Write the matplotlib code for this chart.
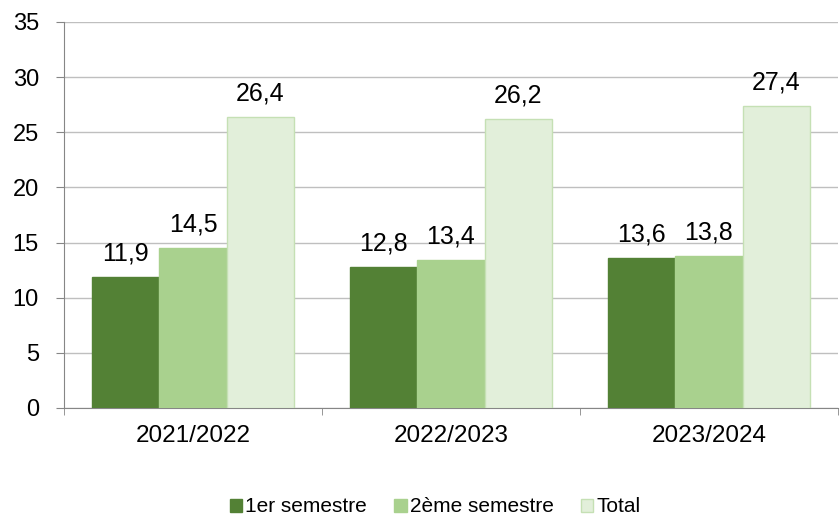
import numpy as np
import matplotlib.pyplot as plt

plt.rcParams['font.family'] = ['Liberation Sans', 'DejaVu Sans']

years = ['2021/2022', '2022/2023', '2023/2024']
sem1 = [11.9, 12.8, 13.6]
sem2 = [14.5, 13.4, 13.8]
total = [26.4, 26.2, 27.4]
series_names = ['1er semestre', '2ème semestre', 'Total']

colors = ['#538135', '#A9D18E', '#E2EFDA']
edges = ['#538135', '#A9D18E', '#C5E0B4']

fig = plt.figure(figsize=(8.4, 5.16), dpi=100)
ax = fig.add_axes([64 / 840, 1 - 408 / 516, 774 / 840, 386 / 516])

x = np.arange(len(years))
w = 0.26
for i, (vals, name) in enumerate(zip([sem1, sem2, total], series_names)):
    pos = x + (i - 1) * w
    ax.bar(pos, vals, width=w, color=colors[i], edgecolor=edges[i],
           linewidth=1, label=name, zorder=3)
    for p, v in zip(pos, vals):
        ax.text(p, v + 1.5, f'{v:.1f}'.replace('.', ','), ha='center',
                va='baseline', fontsize=18, color='#000000')

ax.set_xlim(-0.5, len(years) - 0.5)
ax.set_ylim(0, 35)
ax.set_yticks(range(0, 36, 5))
ax.yaxis.grid(True, color='#BFBFBF', linewidth=1, zorder=0)
ax.set_axisbelow(True)

ax.set_xticks(x)
ax.set_xticklabels(years, fontsize=17.5)
ax.set_xticks(np.arange(-0.5, len(years), 1), minor=True)
ax.tick_params(axis='x', which='major', length=0, pad=12)
ax.tick_params(axis='x', which='minor', length=5, color='#868686')
ax.tick_params(axis='y', labelsize=17, length=6, color='#868686', pad=12)

for s in ['top', 'right']:
    ax.spines[s].set_visible(False)
for s in ['left', 'bottom']:
    ax.spines[s].set_color('#868686')

fig.legend(loc='center', bbox_to_anchor=(435 / 840, 9 / 516), ncol=3,
           frameon=False, fontsize=15, handlelength=0.6, handleheight=0.6,
           handletextpad=0.15, columnspacing=1.3)

fig.savefig('out.png', dpi=100)
